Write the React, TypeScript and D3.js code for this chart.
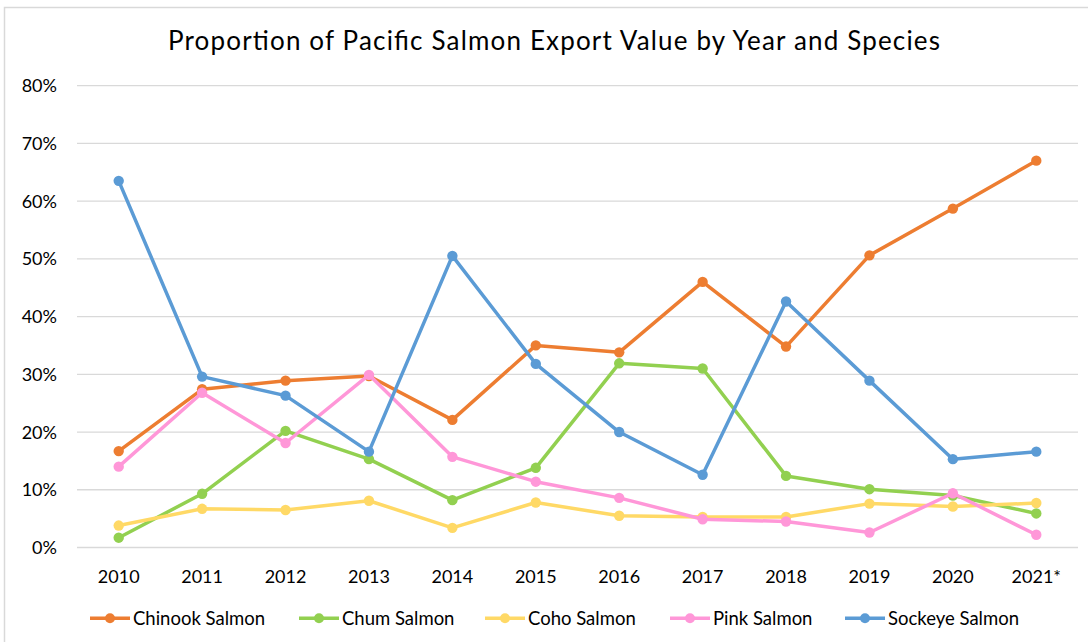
import React from "react";
import * as d3 from "d3";

const years = ["2010","2011","2012","2013","2014","2015","2016","2017","2018","2019","2020","2021*"];
const chinook = [16.7,27.4,28.9,29.7,22.1,35.0,33.8,46.0,34.8,50.6,58.7,67.0];
const chum = [1.7,9.3,20.2,15.3,8.2,13.8,31.9,31.0,12.4,10.1,9.0,5.9];
const coho = [3.8,6.7,6.5,8.1,3.4,7.8,5.5,5.3,5.3,7.6,7.1,7.7];
const pink = [14.0,26.8,18.1,29.9,15.7,11.4,8.6,4.9,4.5,2.6,9.4,2.2];
const sockeye = [63.5,29.6,26.3,16.6,50.5,31.8,20.0,12.6,42.6,28.9,15.3,16.6];
const yTicks = [0,10,20,30,40,50,60,70,80];

const series = [
  { name: "Chinook Salmon", values: chinook, color: "#ED7D31" },
  { name: "Chum Salmon", values: chum, color: "#92D050" },
  { name: "Coho Salmon", values: coho, color: "#FFD966" },
  { name: "Pink Salmon", values: pink, color: "#FF97D8" },
  { name: "Sockeye Salmon", values: sockeye, color: "#5B9BD5" },
];
const legendX = [90, 299, 485, 670, 845];

export default function App() {
  const W = 1088, H = 642;
  const left = 77, right = 1078, top = 85.6, bottom = 547.5;
  const x = d3.scaleBand<string>().domain(years).range([left, right]);
  const y = d3.scaleLinear().domain([0, 80]).range([bottom, top]);
  const cx = (i: number) => (x(years[i]) as number) + x.bandwidth() / 2;
  const line = d3.line<number>().x((_, i) => cx(i)).y((d) => y(d));
  const font = "Lato, 'Open Sans', sans-serif";
  return (
    <svg width={W} height={H} style={{ position: "absolute", left: 0, top: 0, background: "#fff" }}>
      <rect x={0} y={0} width={W} height={H} fill="#fff" />
      <rect x={4.5} y={7.5} width={W} height={H} fill="none" stroke="#d9d9d9" strokeWidth={1.5} />
      <text x={168} y={50} textLength={772} lengthAdjust="spacing" fontFamily={font} fontSize={26} fill="#000">
        Proportion of Pacific Salmon Export Value by Year and Species
      </text>
      {yTicks.map((t) => (
        <g key={t}>
          <line x1={left} x2={right} y1={y(t)} y2={y(t)} stroke="#d9d9d9" strokeWidth={1.3} />
          <text x={57} y={y(t) + 6.5} textAnchor="end" fontFamily={font} fontSize={18} fill="#000">
            {t}%
          </text>
        </g>
      ))}
      {years.map((yr, i) => (
        <text key={yr} x={cx(i)} y={582.5} textAnchor="middle" fontFamily={font} fontSize={18} fill="#000">
          {yr}
        </text>
      ))}
      {series.map((s) => (
        <g key={s.name}>
          <path d={line(s.values) || ""} fill="none" stroke={s.color} strokeWidth={3.5} strokeLinejoin="round" />
          {s.values.map((v, i) => (
            <circle key={i} cx={cx(i)} cy={y(v)} r={5.2} fill={s.color} />
          ))}
        </g>
      ))}
      {series.map((s, k) => (
        <g key={s.name}>
          <line x1={legendX[k]} x2={legendX[k] + 40} y1={618.3} y2={618.3} stroke={s.color} strokeWidth={3.5} />
          <circle cx={legendX[k] + 20} cy={618.3} r={5} fill={s.color} />
          <text x={legendX[k] + 43} y={624.5} fontFamily={font} fontSize={18.5} fill="#000">
            {s.name}
          </text>
        </g>
      ))}
    </svg>
  );
}
